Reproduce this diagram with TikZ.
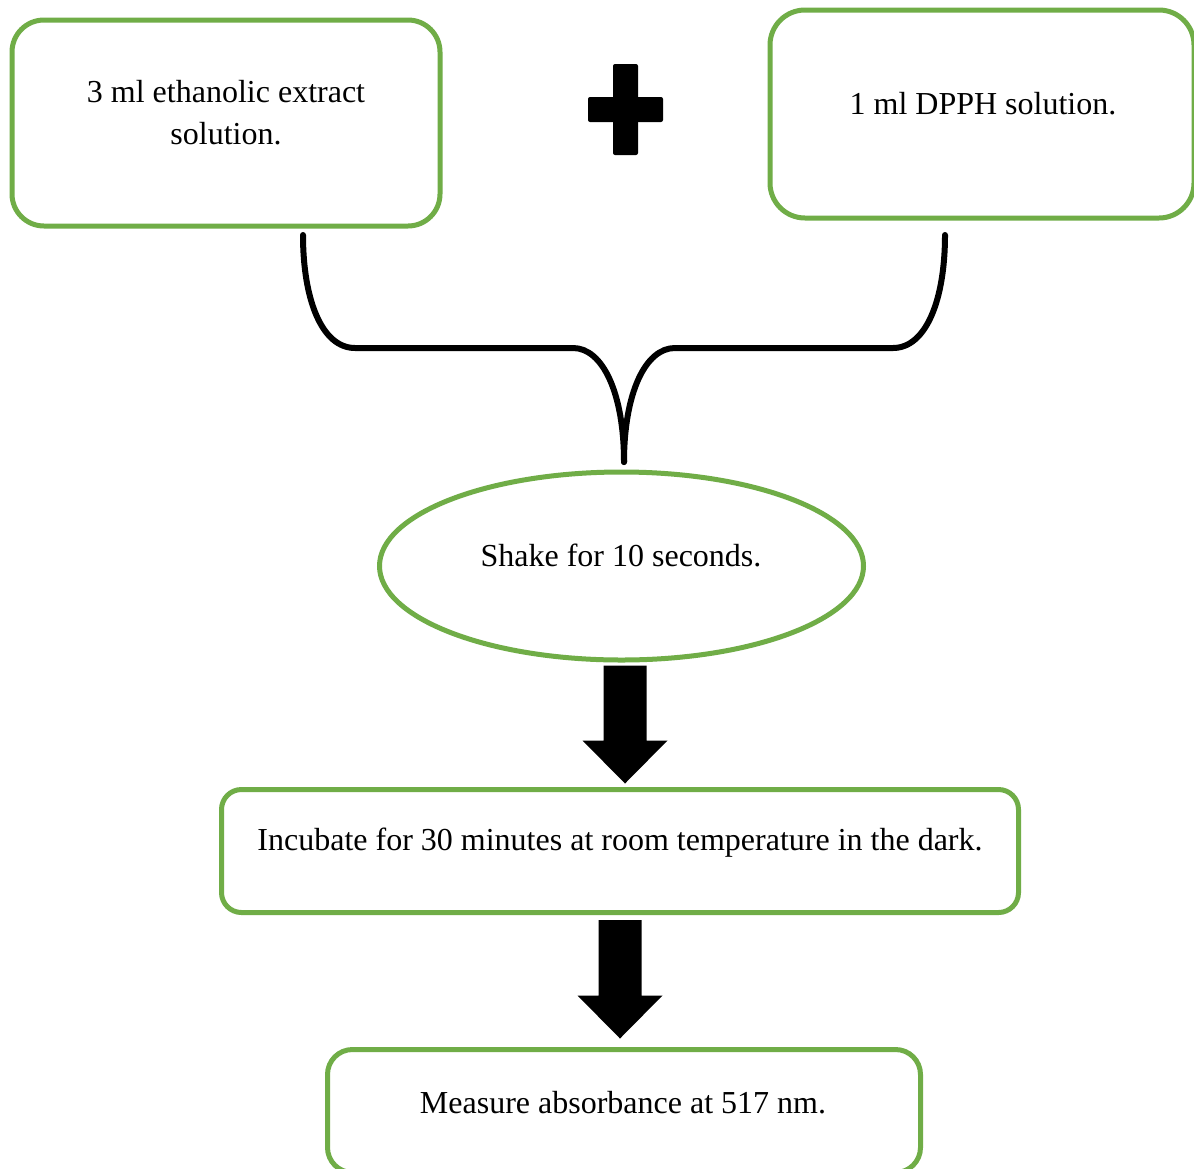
\documentclass[tikz,border=0pt]{standalone}
\usepackage{fontspec}
\setmainfont{Liberation Serif}
\usetikzlibrary{calc,shapes.geometric}
\definecolor{leaf}{HTML}{70AD47}

% thick downward block arrow from #1 (top of shaft) to #2 (tip)
\newcommand\downblock[2]{%
  \fill let \p1=(#1), \p2=(#2) in
    (\x1-21.5pt,\y1) -- (\x1+21.5pt,\y1) -- (\x1+21.5pt,\y2+43pt)
    -- (\x1+42.5pt,\y2+43pt) -- (\x1,\y2) -- (\x1-42.5pt,\y2+43pt)
    -- (\x1-21.5pt,\y2+43pt) -- cycle;}

\begin{document}
\begin{tikzpicture}[x=1pt,y=-1pt,
  stepbox/.style={draw=leaf, line width=5pt, rounded corners=#1, inner sep=0pt},
  stepbox/.default=30pt,
  oval/.style={ellipse, draw=leaf, line width=5pt, inner sep=0pt},
  lbl/.style={font=\fontsize{32}{42}\selectfont, align=center, anchor=base, inner sep=0pt},
  bracket/.style={line width=6pt, line cap=round, line join=round},
  plusbar/.style={fill=black, rounded corners=2pt}]

\useasboundingbox (0,0) rectangle (1194,1168);
\clip (0,0) rectangle (1194,1168);
\fill[white] (0,0) rectangle (1194,1168);

% the two starting solutions
\node[stepbox=32pt, minimum width=428pt, minimum height=206pt] (extract) at (226,123) {};
\node[lbl] (extractText) at (226,144) {3 ml ethanolic extract\\solution.};

\node[stepbox=35pt, minimum width=424pt, minimum height=208pt] (dpph) at (982,114) {};
\node[lbl] (dpphText) at (983,114) {1 ml DPPH solution.};

% plus sign between them
\fill[plusbar] (613,64) rectangle (638,155);
\fill[plusbar] (588,97) rectangle (663,122);

% mixing step
\node[oval, minimum width=484pt, minimum height=188pt] (shake) at (621.5,566) {};
\node[lbl] (shakeText) at (621,566) {Shake for 10 seconds.};

% incubation and measurement
\node[stepbox=20pt, minimum width=797pt, minimum height=123pt] (incubate) at (620,851) {};
\node[lbl] (incubateText) at (620,850) {Incubate for 30 minutes at room temperature in the dark.};

\node[stepbox=25pt, minimum width=593pt, minimum height=123pt] (measure) at (624,1111) {};
\node[lbl] (measureText) at (623,1113) {Measure absorbance at 517 nm.};

% bracket joining both solutions into the mixing step
\coordinate (legL) at (303,235);
\coordinate (legR) at (945,235);
\coordinate (join) at (624,462);
\draw[bracket] (legL) .. controls (303,300) and (322,348) .. (355,348)
  -- (573,348) .. controls (603,348) and (624,394) .. (join);
\draw[bracket] (legR) .. controls (945,300) and (926,348) .. (893,348)
  -- (675,348) .. controls (645,348) and (624,394) .. (join);

% block arrows
\coordinate (a1from) at ($(shake.south)+(3.5,3)$);
\coordinate (a1to) at ($(incubate.north)+(5,-3.5)$);
\downblock{a1from}{a1to}
\coordinate (a2from) at ($(incubate.south)+(0,5)$);
\coordinate (a2to) at ($(measure.north)+(-3,-8.5)$);
\downblock{a2from}{a2to}
\end{tikzpicture}
\end{document}
